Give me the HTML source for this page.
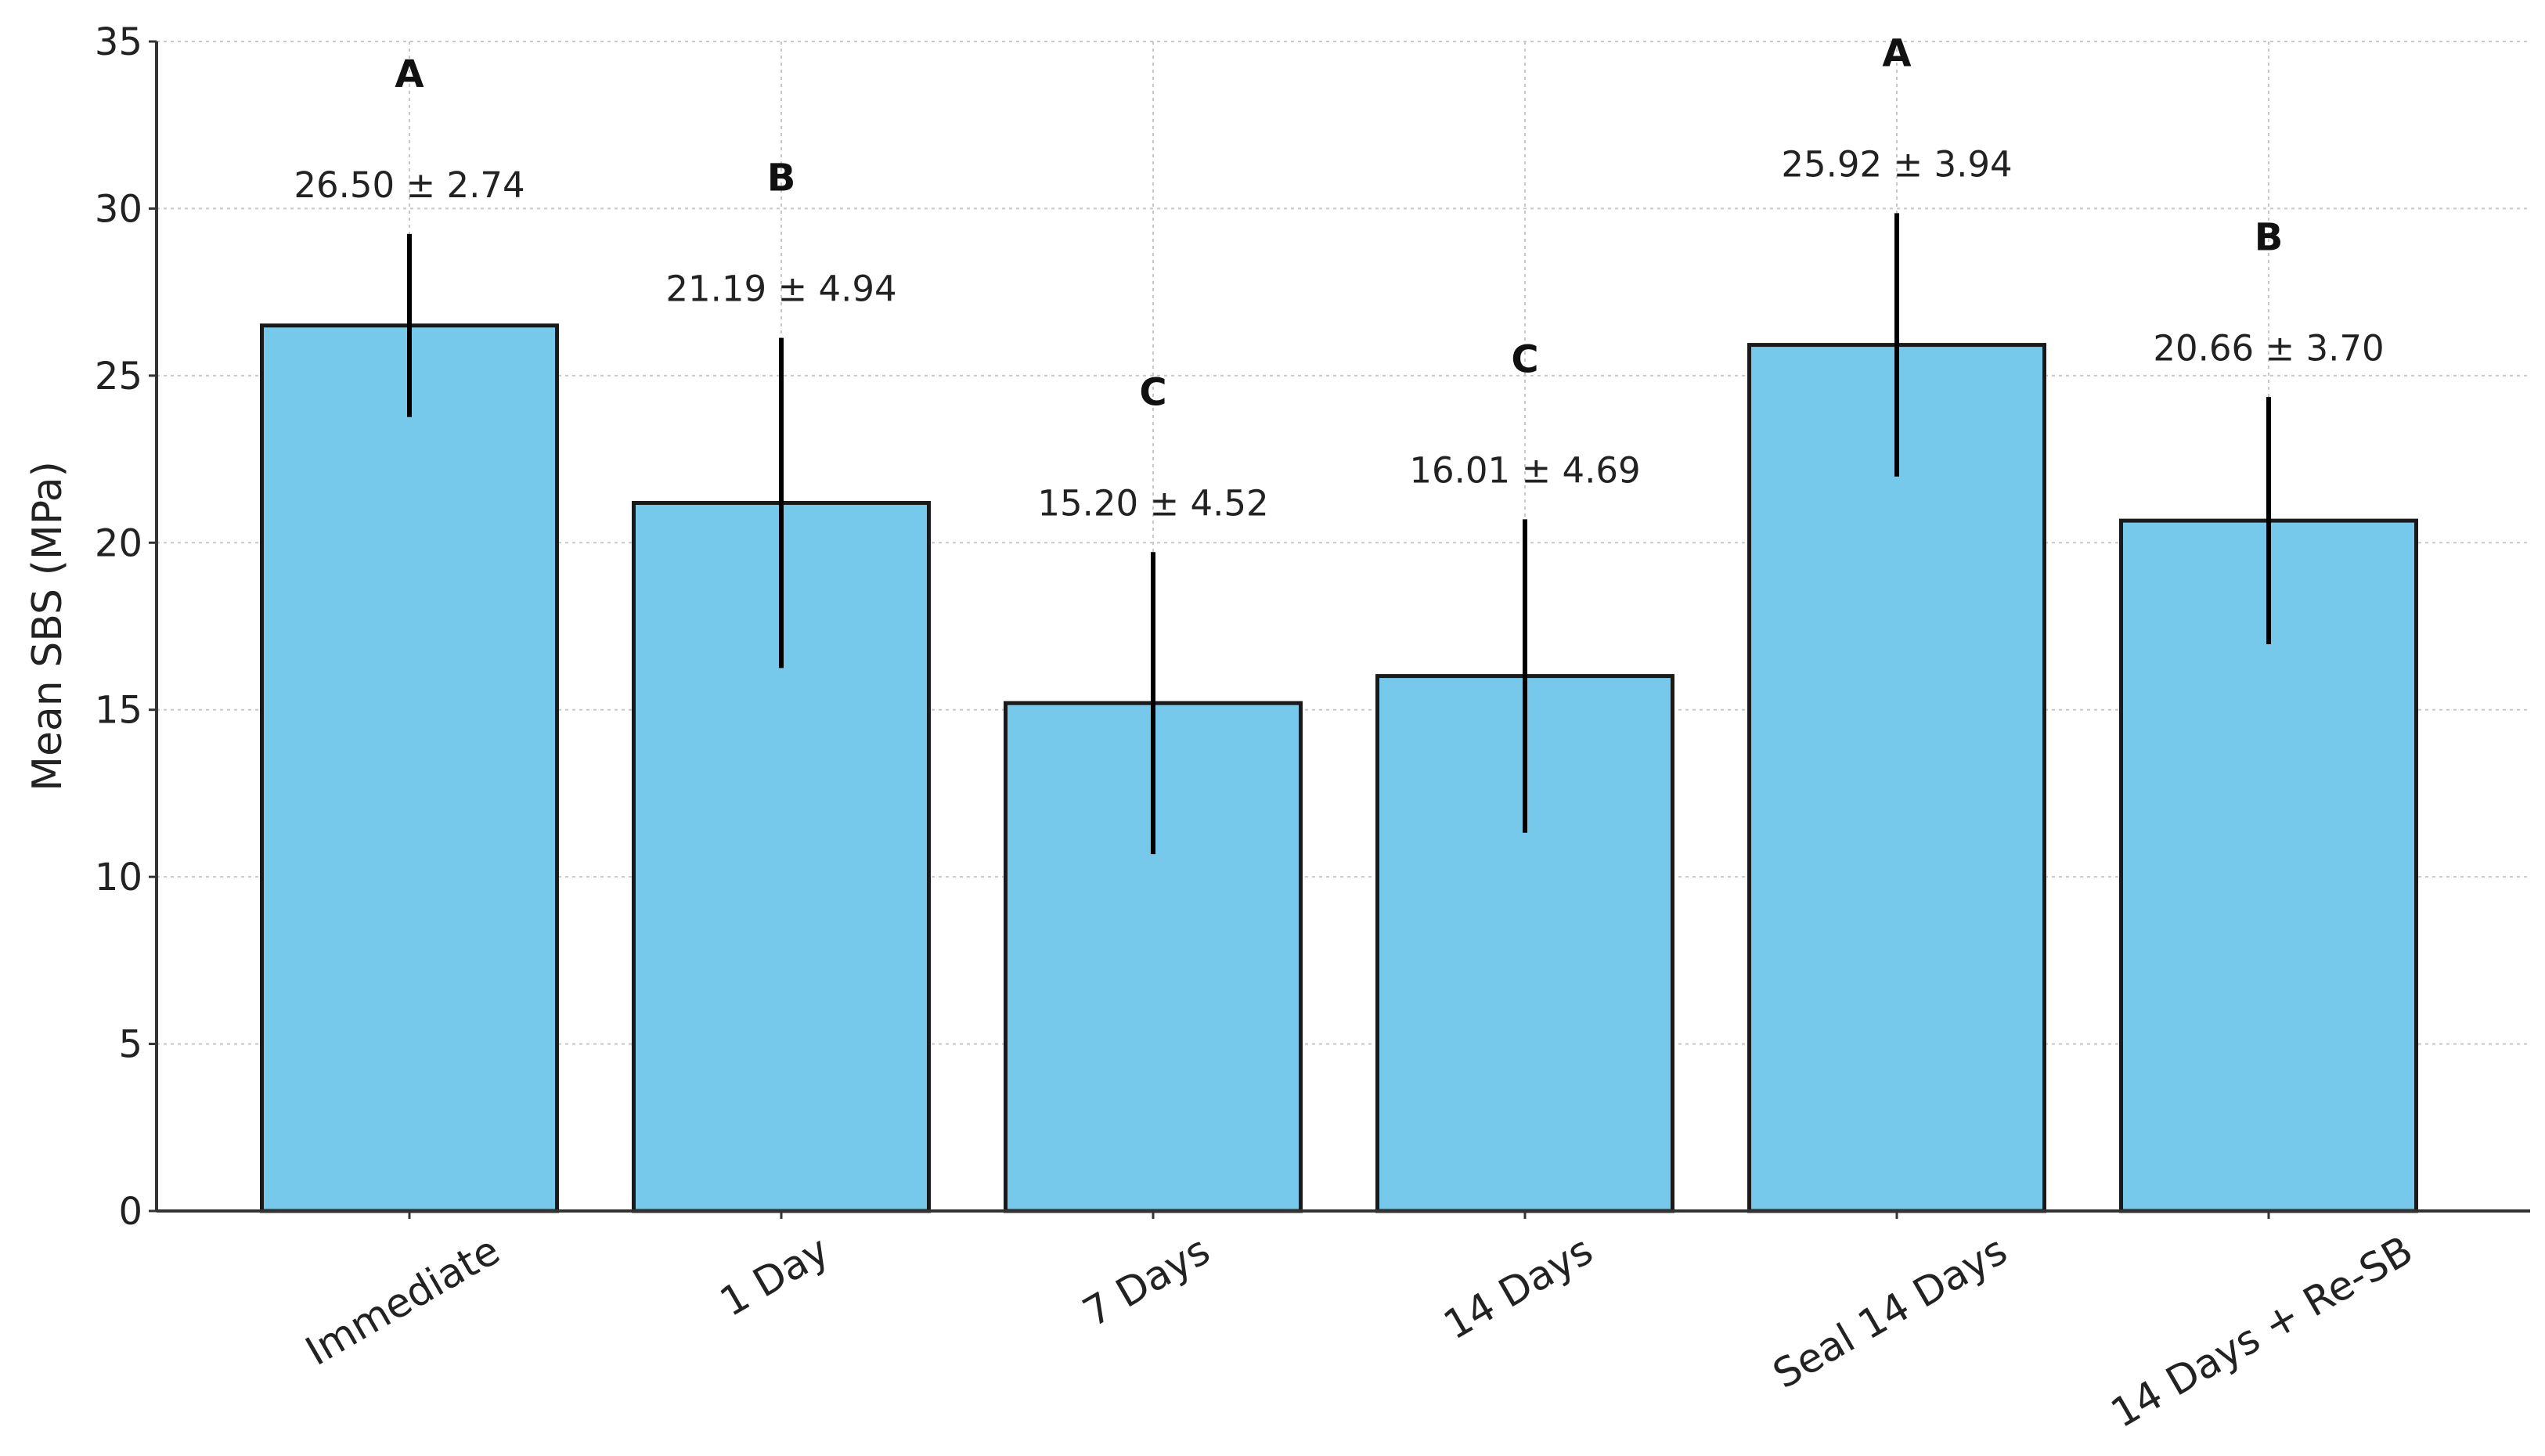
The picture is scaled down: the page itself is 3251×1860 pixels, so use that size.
<!DOCTYPE html>
<html><head><meta charset="utf-8">
<style>
html,body{margin:0;padding:0;background:#fff;}
svg text{font-family:"DejaVu Sans","Liberation Sans",sans-serif;}
</style></head>
<body>
<svg id="chart" width="3251" height="1855" xmlns="http://www.w3.org/2000/svg">
<g id="grid"></g>
<g id="bars"></g>
<g id="axes"></g>
<text x="0" y="0" transform="translate(78,800) rotate(-90)" text-anchor="middle" font-size="52" fill="#222">Mean SBS (MPa)</text>
</svg>
<script>
const categories = ["Immediate","1 Day","7 Days","14 Days","Seal 14 Days","14 Days + Re-SB"];
const means = [26.50, 21.19, 15.20, 16.01, 25.92, 20.66];
const sds = [2.74, 4.94, 4.52, 4.69, 3.94, 3.70];
const letters = ["A","B","C","C","A","B"];
const yTicks = [0,5,10,15,20,25,30,35];

const NS = "http://www.w3.org/2000/svg";
const X0 = 200, X1 = 3232, Y0 = 1547, Y1 = 53;
const firstC = 523, step = 475, barW = 377;
function xs(i){ return firstC + i*step; }
function ys(v){ return Y0 - (v/35)*(Y0-Y1); }
function mk(tag, attrs, parent){
  const e = document.createElementNS(NS, tag);
  for (const k in attrs) e.setAttribute(k, attrs[k]);
  parent.appendChild(e);
  return e;
}
const grid = document.getElementById('grid');
const bars = document.getElementById('bars');
const axes = document.getElementById('axes');

yTicks.forEach(t => {
  const y = ys(t);
  const gl = mk('line',{x1:X0,x2:X1,y1:y,y2:y,stroke:'#c8c8c8','stroke-width':2,'stroke-dasharray':'4,5'},grid);
  
  
  const tk = mk('line',{x1:X0-10,x2:X0,y1:y,y2:y,stroke:'#333','stroke-width':3},axes);
  
  
  const tl = mk('text',{x:X0-18,y:y+17,'text-anchor':'end','font-size':48,fill:'#222'},axes);
  tl.textContent = t;
  
  
});
categories.forEach((c,i) => {
  const x = xs(i);
  const gl = mk('line',{x1:x,x2:x,y1:Y1,y2:Y0,stroke:'#c8c8c8','stroke-width':2,'stroke-dasharray':'4,5'},grid);
  
  
});
categories.forEach((c,i) => {
  const x = xs(i), m = means[i], s = sds[i];
  const b = mk('rect',{x:x-barW/2,y:ys(m),width:barW,height:Y0-ys(m),fill:'#76c9eb',stroke:'#1a1a1a','stroke-width':5},bars);
  
  
  const e = mk('line',{x1:x,x2:x,y1:ys(m+s),y2:ys(m-s),stroke:'#000','stroke-width':6},bars);
  
  
  const vt = mk('text',{x:x,y:ys(m+s+1.45)+15,'text-anchor':'middle','font-size':45,fill:'#222'},bars);
  vt.textContent = m.toFixed(2)+' \u00b1 '+s.toFixed(2);
  
  
  const lt = mk('text',{x:x,y:ys(m+s+4.8)+17,'text-anchor':'middle','font-size':48,'font-weight':'bold',fill:'#111'},bars);
  lt.textContent = letters[i];
  
  
  const tk = mk('line',{x1:x,x2:x,y1:Y0,y2:Y0+10,stroke:'#333','stroke-width':3},axes);
  
  
  const xl = mk('text',{'text-anchor':'middle','font-size':51,fill:'#222'},axes);
  xl.textContent = c;
  
  
  const len = xl.getComputedTextLength ? xl.getComputedTextLength() : c.length*28;
  const cy = 1570 + (len*0.5 + 44)/2;
  xl.setAttribute('transform','translate('+x+','+(cy+16)+') rotate(-30)');
});
const ax = mk('line',{x1:X0,x2:X0,y1:Y1,y2:Y0,stroke:'#333','stroke-width':4},axes);


const bx = mk('line',{x1:X0,x2:X1,y1:Y0,y2:Y0,stroke:'#333','stroke-width':4},axes);


</script>
</body></html>
